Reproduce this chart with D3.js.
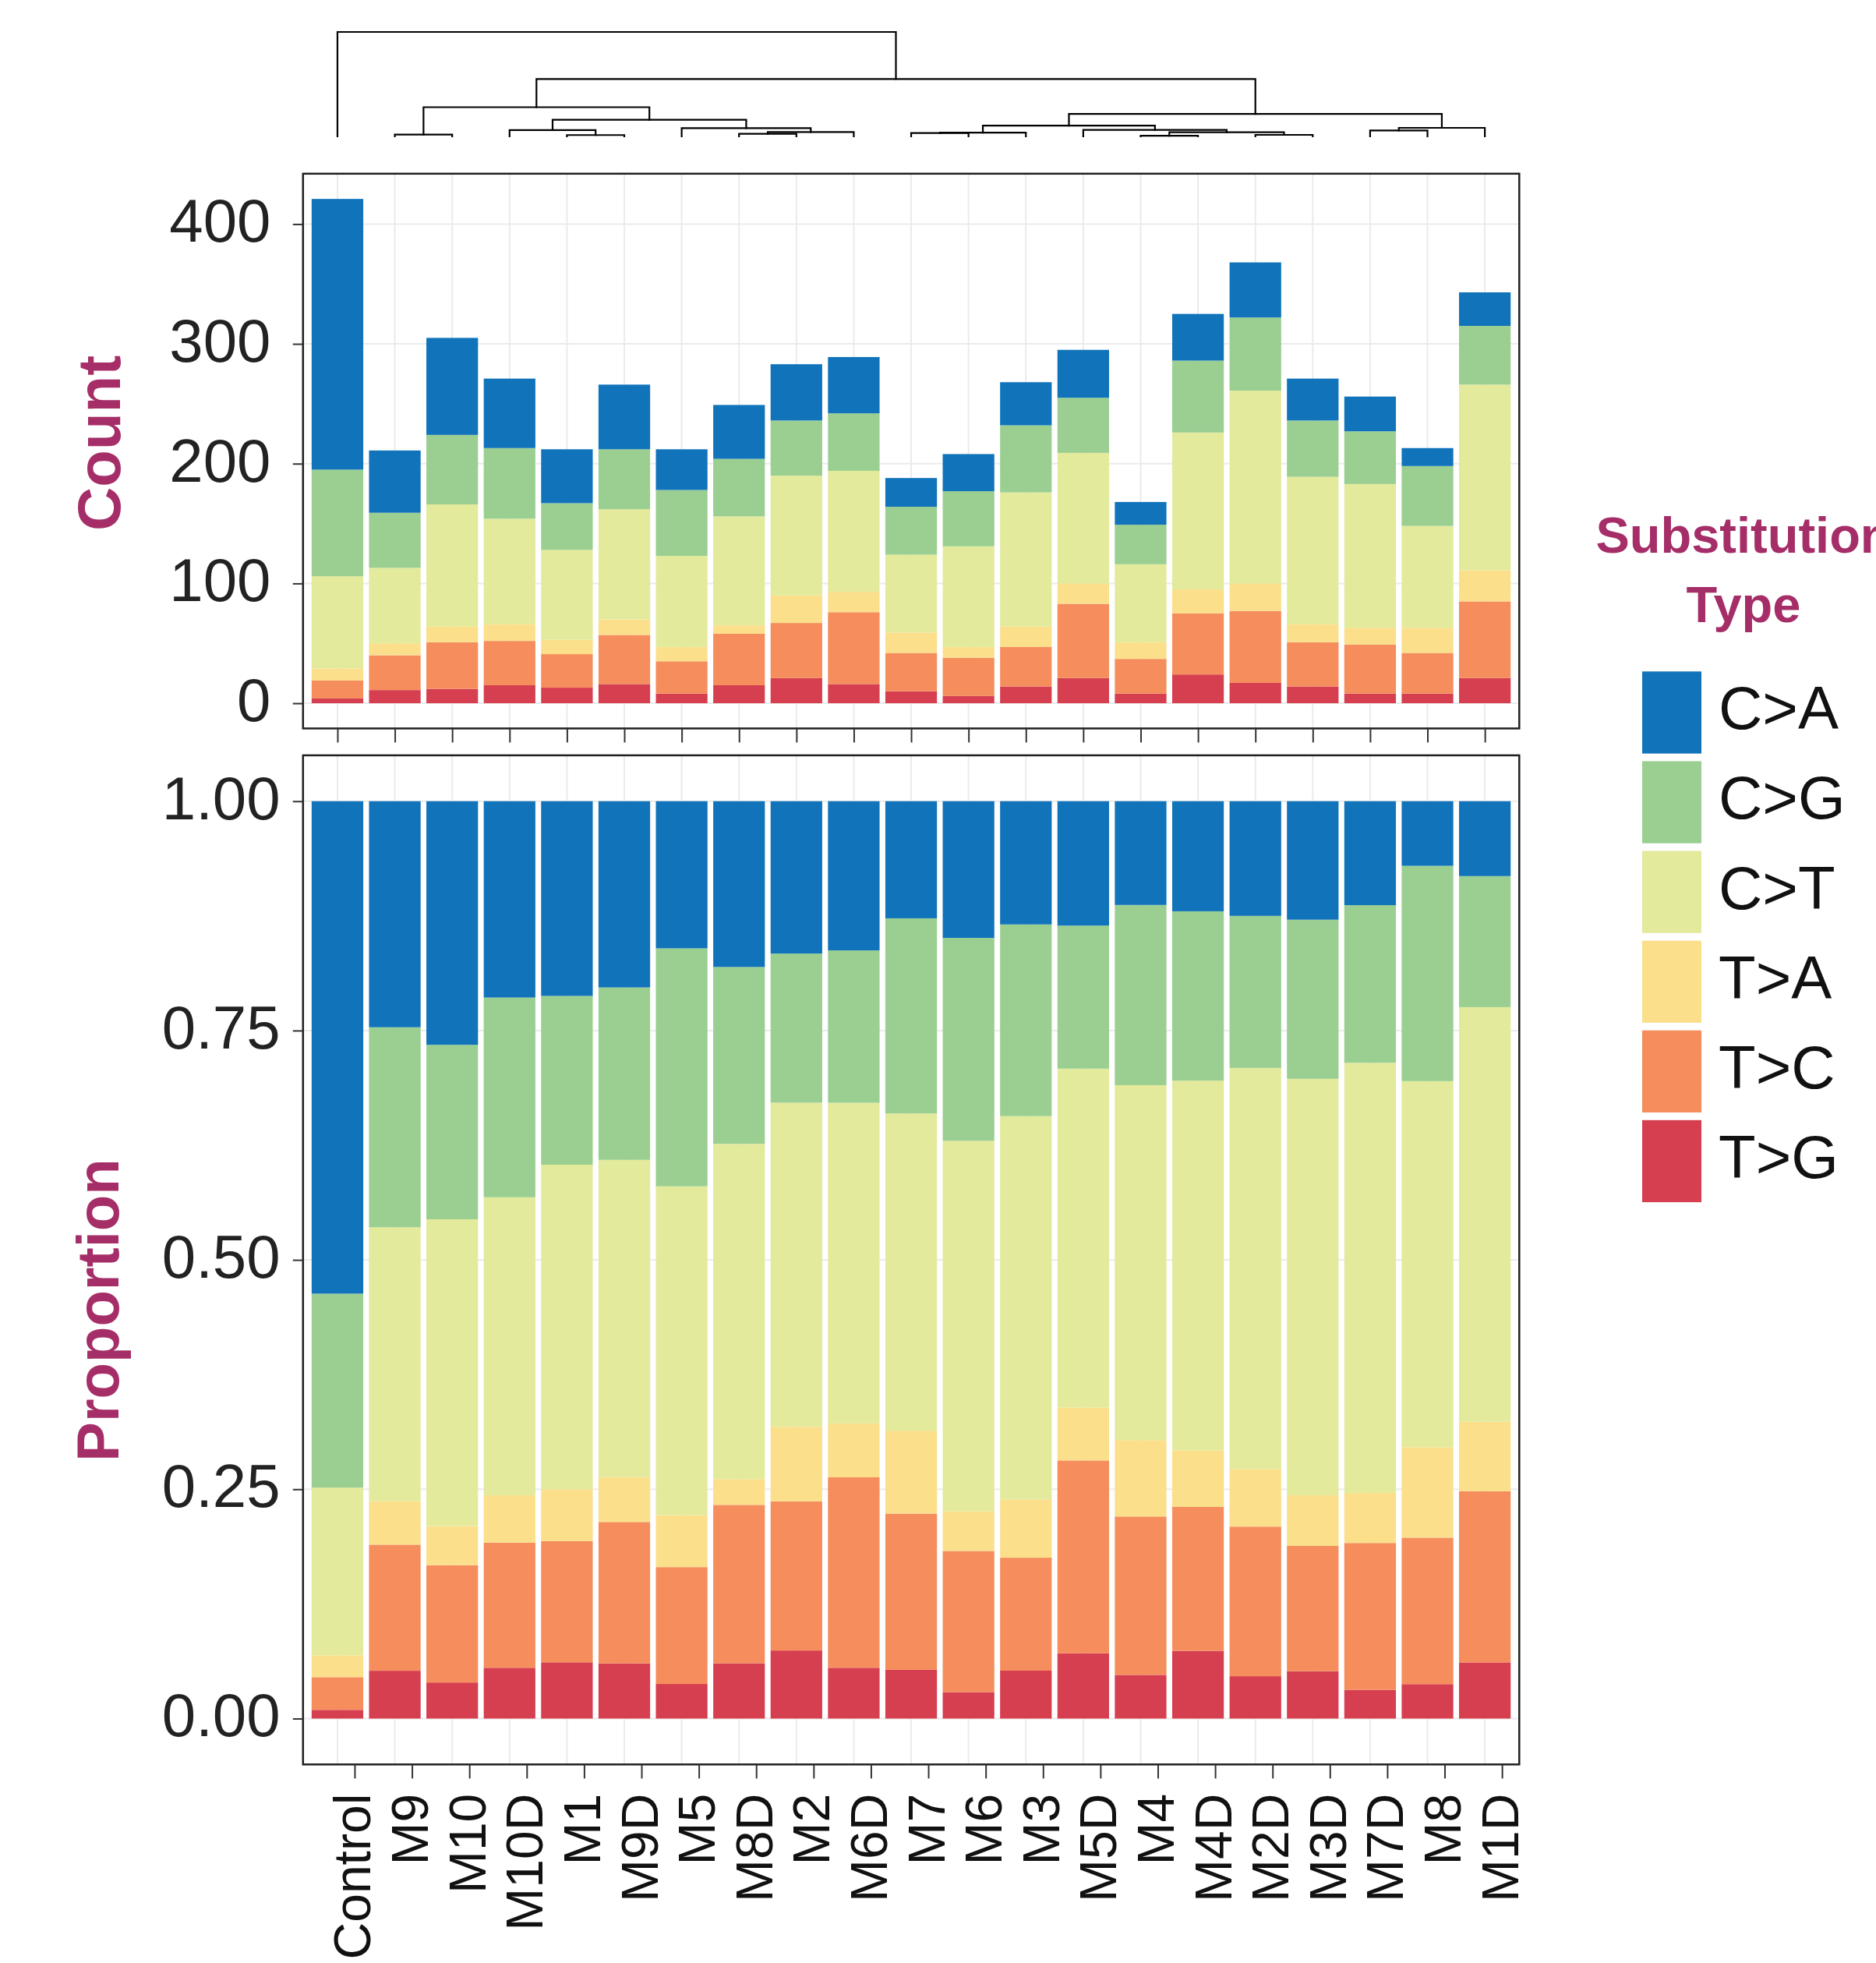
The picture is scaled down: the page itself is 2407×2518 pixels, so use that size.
<!DOCTYPE html>
<html>
<head>
<meta charset="utf-8">
<script src="https://cdn.jsdelivr.net/npm/d3@7"></script>
<style>
  html, body { margin: 0; padding: 0; background: #ffffff; }
  svg { display: block; font-family: "Liberation Sans", Arial, Helvetica, sans-serif; }
</style>
</head>
<body>
<script>
// Samples in dendrogram (leaf) order
const samples = ["Control","M9","M10","M10D","M1","M9D","M5","M8D","M2","M6D",
                 "M7","M6","M3","M5D","M4","M4D","M2D","M3D","M7D","M8","M1D"];

// Substitution types, legend order (top of stack first)
const types = ["C>A","C>G","C>T","T>A","T>C","T>G"];
const typeColors = ["#1174BB","#9ACF91","#E3EA9B","#FBDF8B","#F58D5C","#D63F50"];

// Mutation counts per substitution type, one value per sample
const countCA = [226, 52, 81, 58, 45, 54, 34, 45, 47, 47, 24, 31, 36, 40, 19, 39, 46, 35, 29, 15, 28];
const countCG = [ 89, 46, 58, 59, 39, 50, 55, 48, 46, 48, 40, 46, 56, 46, 33, 60, 61, 47, 44, 50, 49];
const countCT = [ 77, 63,102, 88, 75, 92, 76, 91,100,101, 65, 84,112,109, 65,131,161,123,120, 85,155];
const countTA = [ 10, 10, 13, 14, 12, 13, 12,  7, 23, 17, 17,  9, 17, 17, 14, 20, 23, 15, 14, 21, 26];
const countTC = [ 15, 29, 39, 37, 28, 41, 27, 43, 46, 60, 32, 32, 33, 62, 29, 51, 60, 37, 41, 34, 64];
const countTG = [  4, 11, 12, 15, 13, 16,  8, 15, 21, 16, 10,  6, 14, 21,  8, 24, 17, 14,  8,  8, 21];

// Axis tick values
const countTicks = [0, 100, 200, 300, 400];
const propTicks = [0, 0.25, 0.5, 0.75, 1.0];

// Hierarchical clustering of samples: [mergeHeight, left, right]; leaves are sample names
const dendrogram = [1.0, "Control",
  [0.55,
    [0.28,
      [0.017, "M9", "M10"],
      [0.16,
        [0.06, "M10D", [0.013, "M1", "M9D"]],
        [0.08, "M5", [0.042, [0.025, "M8D", "M2"], "M6D"]]]],
    [0.216,
      [0.104,
        [0.037, [0.032, "M7", "M6"], "M3"],
        [0.062, "M5D", [0.04, [0.007, "M4", "M4D"], [0.015, "M2D", "M3D"]]]],
      [0.082, [0.057, "M7D", "M8"], "M1D"]]]];

// ---- assemble the table used by the stack layout ----
const seriesByType = {"C>A": countCA, "C>G": countCG, "C>T": countCT,
                      "T>A": countTA, "T>C": countTC, "T>G": countTG};
const rows = samples.map((s, i) => {
  const r = {sample: s};
  types.forEach(t => { r[t] = seriesByType[t][i]; });
  r.total = d3.sum(types, t => r[t]);
  return r;
});
const propRows = rows.map(r => {
  const p = {sample: r.sample};
  types.forEach(t => { p[t] = r[t] / r.total; });
  return p;
});
const stackKeys = types.slice().reverse();   // T>G at the bottom, C>A on top
const stack = d3.stack().keys(stackKeys);
const countSeries = stack(rows);
const propSeries = stack(propRows);
const color = d3.scaleOrdinal().domain(types).range(typeColors);

// ---- layout ----
const W = 2407, H = 2518;
const panelLeft = 388.8, panelRight = 1949.3;
const top1 = 222.8, bottom1 = 934.4;     // count panel
const top2 = 968.9, bottom2 = 2263.3;    // proportion panel
const titleColor = "#A62E68";
const gridColor = "#EBEBEB";
const inkColor = "#222222";

const svg = d3.select("body").append("svg")
  .attr("width", W).attr("height", H)
  .attr("viewBox", `0 0 ${W} ${H}`);
svg.append("rect").attr("width", W).attr("height", H).attr("fill", "#ffffff");

const x = d3.scalePoint().domain(samples).range([panelLeft, panelRight]).padding(0.6);
const barW = x.step() * 0.9;
// the bottom axis labels sit slightly to the right of the bar centres
const xLab = d3.scalePoint().domain(samples).range([panelLeft + 22, panelRight + 22]).padding(0.6);

const maxTotal = d3.max(rows, r => r.total);
const yCount = d3.scaleLinear().domain([-0.05 * maxTotal, 1.05 * maxTotal]).range([bottom1, top1]);
const yProp = d3.scaleLinear().domain([-0.05, 1.05]).range([bottom2, top2]);

function drawPanel(g, y, ticks, series, top, bottom) {
  // grid
  g.append("g").selectAll("line.v").data(samples).join("line")
    .attr("x1", d => x(d)).attr("x2", d => x(d))
    .attr("y1", top).attr("y2", bottom)
    .attr("stroke", gridColor).attr("stroke-width", 2);
  g.append("g").selectAll("line.h").data(ticks).join("line")
    .attr("x1", panelLeft).attr("x2", panelRight)
    .attr("y1", d => y(d)).attr("y2", d => y(d))
    .attr("stroke", gridColor).attr("stroke-width", 2);
  // stacked bars
  g.append("g").selectAll("g").data(series).join("g")
    .attr("fill", d => color(d.key))
    .selectAll("rect").data(d => d).join("rect")
      .attr("x", d => x(d.data.sample) - barW / 2)
      .attr("width", barW)
      .attr("y", d => y(d[1]))
      .attr("height", d => y(d[0]) - y(d[1]));
  // border
  g.append("rect")
    .attr("x", panelLeft).attr("y", top)
    .attr("width", panelRight - panelLeft).attr("height", bottom - top)
    .attr("fill", "none").attr("stroke", "#1f1f1f").attr("stroke-width", 2.5);
}

const g1 = svg.append("g");
drawPanel(g1, yCount, countTicks, countSeries, top1, bottom1);
const g2 = svg.append("g");
drawPanel(g2, yProp, propTicks, propSeries, top2, bottom2);

// ---- y axes ----
function yAxis(scale, ticks, fmt, labelRight) {
  const ax = d3.axisLeft(scale).tickValues(ticks).tickSize(13).tickPadding(0).tickFormat(fmt);
  const g = svg.append("g").attr("transform", `translate(${panelLeft},0)`).call(ax);
  g.select(".domain").remove();
  g.selectAll(".tick line").attr("stroke", "#333").attr("stroke-width", 2);
  g.selectAll(".tick text")
    .attr("x", labelRight - panelLeft).attr("dy", 22.5)
    .attr("text-anchor", "end")
    .attr("fill", inkColor)
    .style("font-size", "78px")
    .style("font-family", "'Liberation Sans', Arial, Helvetica, sans-serif");
}
// count labels are padded to equal width
yAxis(yCount, countTicks, d => String(d).padStart(3, "\u00A0"), 347.5);
yAxis(yProp, propTicks, d3.format(".2f"), 359.6);

// ---- x axes ----
const axTop = svg.append("g").attr("transform", `translate(0,${bottom1})`)
  .call(d3.axisBottom(x).tickSize(18).tickFormat(""));
axTop.select(".domain").remove();
axTop.selectAll(".tick line").attr("stroke", "#333").attr("stroke-width", 2);

const axBot = svg.append("g").attr("transform", `translate(0,${bottom2})`)
  .call(d3.axisBottom(xLab).tickSize(18).tickPadding(0));
axBot.select(".domain").remove();
axBot.selectAll(".tick line").attr("stroke", "#333").attr("stroke-width", 2);
axBot.selectAll(".tick text")
  .attr("transform", "translate(20," + (2300.7 - bottom2) + ") rotate(-90)")
  .attr("x", 0).attr("y", 0).attr("dy", 0)
  .attr("text-anchor", "end")
  .attr("fill", "#111")
  .style("font-size", "66px")
  .style("font-family", "'Liberation Sans', Arial, Helvetica, sans-serif");

// ---- axis titles ----
svg.append("text")
  .attr("transform", `translate(153.5,568.4) rotate(-90)`)
  .attr("text-anchor", "middle")
  .attr("fill", titleColor).attr("font-weight", "bold")
  .style("font-size", "78px")
  .text("Count");
svg.append("text")
  .attr("transform", `translate(152.3,1680.5) rotate(-90)`)
  .attr("text-anchor", "middle")
  .attr("fill", titleColor).attr("font-weight", "bold")
  .style("font-size", "76px")
  .text("Proportion");

// ---- dendrogram ----
const dLeafY = 175, dRootY = 41;
const yDend = d3.scaleLinear().domain([0, 1]).range([dLeafY, dRootY]);
const dendG = svg.append("g").attr("stroke", "#000").attr("stroke-width", 2.2)
  .attr("fill", "none").attr("stroke-linecap", "square");
function layoutNode(node) {
  if (typeof node === "string") return {x: x(node), h: 0};
  const [h, a, b] = node;
  const la = layoutNode(a), lb = layoutNode(b);
  const yy = yDend(h);
  dendG.append("path")
    .attr("d", `M${la.x},${yDend(la.h)}V${yy}H${lb.x}V${yDend(lb.h)}`);
  return {x: (la.x + lb.x) / 2, h: h};
}
layoutNode(dendrogram);

// ---- legend ----
const legend = svg.append("g");
legend.append("text")
  .attr("x", 2237).attr("y", 708.8)
  .attr("text-anchor", "middle").attr("font-weight", "bold")
  .attr("fill", titleColor).style("font-size", "65px")
  .text("Substitution");
legend.append("text")
  .attr("x", 2237).attr("y", 797.6)
  .attr("text-anchor", "middle").attr("font-weight", "bold")
  .attr("fill", titleColor).style("font-size", "65px")
  .text("Type");
const keyTop = 861.3, keyStep = 115.1, keyH = 105.3, keyW = 76, keyX = 2107;
const items = legend.selectAll("g.item").data(types).join("g")
  .attr("transform", (d, i) => `translate(${keyX},${keyTop + i * keyStep})`);
items.append("rect")
  .attr("width", keyW).attr("height", keyH)
  .attr("fill", d => color(d));
items.append("text")
  .attr("x", 98).attr("y", 74)
  .attr("fill", "#111")
  .style("font-size", "78px")
  .text(d => d);
</script>
</body>
</html>
